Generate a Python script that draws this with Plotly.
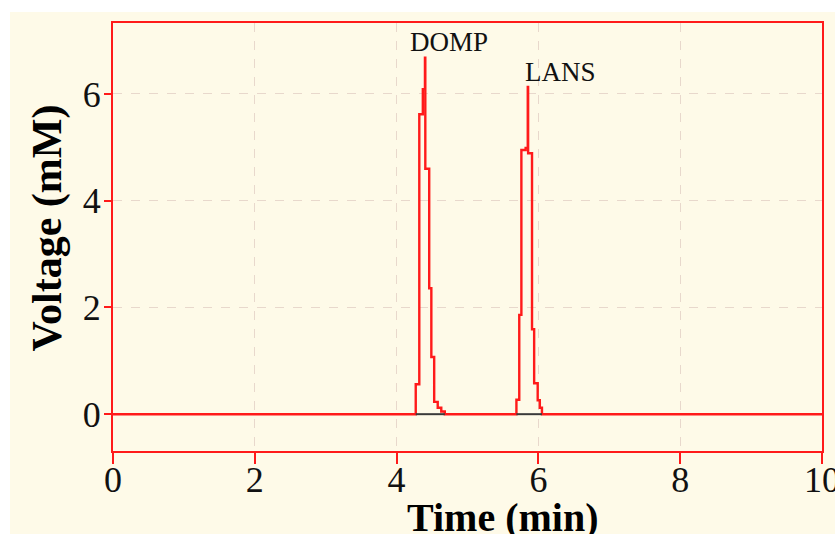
import plotly.graph_objects as go

# Chromatogram (step trace), time in min, voltage in mM
time = [0, 4.27, 4.32, 4.37, 4.40, 4.405, 4.46, 4.49, 4.53, 4.58, 4.63, 4.68,
        5.69, 5.73, 5.76, 5.82, 5.85, 5.855, 5.91, 5.94, 5.99, 6.02, 6.05, 10]
voltage = [0, 0.56, 5.62, 6.09, 6.68, 4.6, 2.36, 1.07, 0.23, 0.12, 0.05, 0,
           0.27, 1.86, 4.95, 4.99, 6.13, 4.89, 1.59, 0.58, 0.26, 0.12, 0, 0]

# Integration baselines under peaks
base_start = [4.27, 5.69]
base_end = [4.68, 6.05]

# Peak labels
peak_names = ["DOMP", "LANS"]
peak_label_x = [4.16, 5.78]
peak_label_y = [6.97, 6.41]

x_ticks = [0, 2, 4, 6, 8, 10]
y_ticks = [0, 2, 4, 6]

RED = "#FF1A1A"
SERIF = "Liberation Serif, Times New Roman, serif"

fig = go.Figure()
fig.add_trace(go.Scatter(x=time, y=voltage, mode="lines", line_shape="hv",
                         line=dict(color=RED, width=2.4), showlegend=False,
                         hoverinfo="skip"))
for s, e in zip(base_start, base_end):
    fig.add_trace(go.Scatter(x=[s, e], y=[0, 0], mode="lines",
                             line=dict(color="#3a3a3a", width=2),
                             showlegend=False, hoverinfo="skip"))

for name, px, py in zip(peak_names, peak_label_x, peak_label_y):
    fig.add_annotation(x=px, y=py, text=name, showarrow=False, xanchor="left",
                       yanchor="middle", font=dict(family=SERIF, size=27, color="#111111"))

# Axis titles as annotations
fig.add_annotation(xref="paper", yref="paper", x=0.55, y=-0.155, text="<b>Time (min)</b>",
                   showarrow=False, xanchor="center", yanchor="middle",
                   font=dict(family=SERIF, size=40, color="#000000"))
fig.add_annotation(xref="paper", yref="paper", x=-0.093, y=0.52, text="<b>Voltage (mM)</b>",
                   showarrow=False, xanchor="center", yanchor="middle", textangle=-90,
                   font=dict(family=SERIF, size=42, color="#000000"))

# cream background area (white thin strip at top/left)
fig.add_shape(type="rect", xref="paper", yref="paper", x0=-0.1453, x1=1.02,
              y0=-0.20, y1=1.0257, fillcolor="#FEFAE8", line=dict(width=0), layer="below")

fig.update_xaxes(range=[0, 10], tickvals=x_ticks, ticks="outside", ticklen=11,
                 tickwidth=2, tickcolor=RED, showline=True, linecolor=RED, linewidth=2,
                 mirror=True, showgrid=True, gridcolor="#E8D8CC", griddash="dash",
                 gridwidth=1, zeroline=False, ticklabeloverflow="allow",
                 ticklabelstandoff=-15, automargin=False,
                 tickfont=dict(family=SERIF, size=36, color="#111111"))
fig.update_yaxes(range=[-0.69, 7.33], tickvals=y_ticks, ticks="outside", ticklen=7,
                 tickwidth=2, tickcolor=RED, showline=True, linecolor=RED, linewidth=2,
                 mirror=True, showgrid=True, gridcolor="#E8D8CC", griddash="dash",
                 gridwidth=1, zeroline=False, ticklabelstandoff=-4, automargin=False,
                 tickfont=dict(family=SERIF, size=36, color="#111111"))

fig.update_layout(width=835, height=534,
                  margin=dict(l=113, r=13, t=23, b=83, autoexpand=False),
                  paper_bgcolor="#FFFFFF", plot_bgcolor="#FFFDF0",
                  showlegend=False)

fig.write_html("out.html")
